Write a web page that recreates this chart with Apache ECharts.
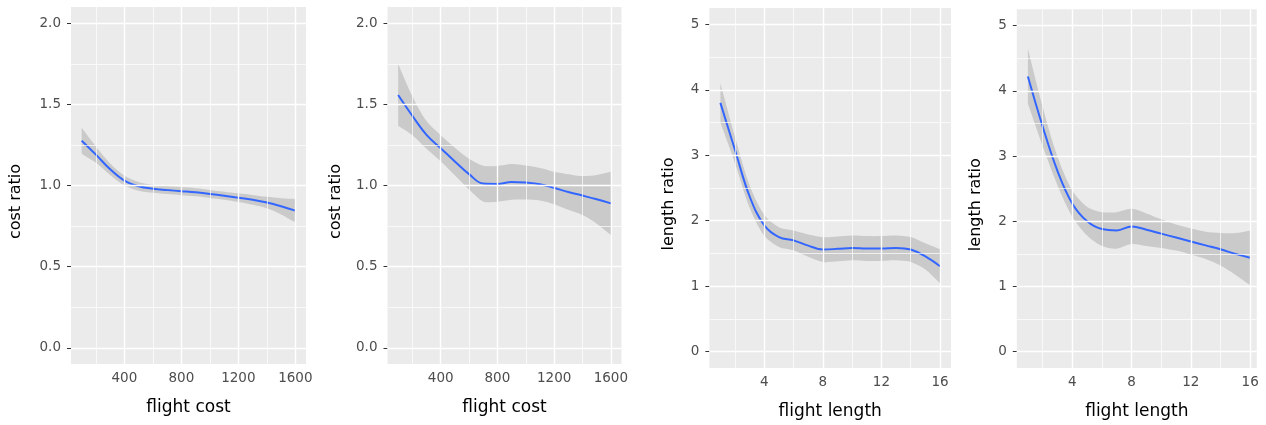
<!DOCTYPE html>
<html>
<head>
<meta charset="utf-8">
<script src="https://cdn.jsdelivr.net/npm/echarts@6/dist/echarts.min.js"></script>
<style>
html,body{margin:0;padding:0;background:#fff;}
#c{width:1266px;height:425px;}
</style>
</head>
<body>
<div id="c"></div>
<script>
// ---- data ----
const costX = [100,200,300,400,500,600,700,800,900,1000,1100,1200,1300,1400,1500,1600];
const lengthX = [1,2,3,4,5,6,7,8,9,10,11,12,13,14,15,16];

const cost1Fit   = [1.276,1.19,1.10,1.03,0.995,0.98,0.972,0.965,0.958,0.948,0.937,0.925,0.912,0.895,0.872,0.845];
const cost1Lower = [1.196,1.14,1.065,1.0,0.968,0.955,0.947,0.94,0.933,0.923,0.912,0.898,0.882,0.86,0.822,0.773];
const cost1Upper = [1.356,1.24,1.135,1.06,1.022,1.005,0.997,0.99,0.983,0.973,0.962,0.952,0.942,0.93,0.922,0.917];

const cost2Fit   = [1.558,1.43,1.312,1.23,1.148,1.07,1.012,1.01,1.022,1.018,1.008,0.985,0.96,0.938,0.915,0.89];
const cost2Lower = [1.368,1.31,1.227,1.15,1.063,0.975,0.902,0.9,0.912,0.913,0.908,0.885,0.85,0.818,0.765,0.695];
const cost2Upper = [1.748,1.55,1.397,1.31,1.233,1.165,1.122,1.12,1.132,1.123,1.108,1.085,1.07,1.058,1.065,1.085];

const len1Fit   = [3.8,3.08,2.37,1.93,1.75,1.7,1.62,1.56,1.57,1.585,1.575,1.575,1.585,1.56,1.455,1.305];
const len1Lower = [3.5,2.88,2.2,1.77,1.6,1.55,1.45,1.37,1.38,1.395,1.385,1.385,1.395,1.37,1.255,1.045];
const len1Upper = [4.1,3.28,2.54,2.09,1.9,1.85,1.79,1.75,1.76,1.775,1.765,1.765,1.775,1.75,1.655,1.565];

const len2Fit   = [4.22,3.45,2.77,2.27,2.0,1.88,1.86,1.92,1.87,1.81,1.75,1.69,1.63,1.57,1.5,1.44];
const len2Lower = [3.8,3.15,2.55,2.07,1.78,1.62,1.58,1.65,1.62,1.59,1.55,1.49,1.42,1.32,1.18,1.02];
const len2Upper = [4.64,3.75,2.99,2.47,2.22,2.14,2.14,2.19,2.12,2.03,1.95,1.89,1.84,1.82,1.82,1.86];

const costTicks = [400,800,1200,1600];
const costMinor = [200,600,1000,1400];
const lengthTicks = [4,8,12,16];
const lengthMinor = [2,6,10,14];
const costRatioTicks = [0,0.5,1,1.5,2];
const costRatioMinor = [0.25,0.75,1.25,1.75];
const lengthRatioTicks = [0,1,2,3,4,5];
const lengthRatioMinor = [0.5,1.5,2.5,3.5,4.5];

const panels = [
  {x: costX, fit: cost1Fit, lo: cost1Lower, hi: cost1Upper, xt: costTicks, xm: costMinor, yt: costRatioTicks, ym: costRatioMinor,
   xname: 'flight cost', yname: 'cost ratio', xmin: 25, xmax: 1675, ymin: -0.1, ymax: 2.1, dec: 1, yGap: 47,
   grid: {left: 71, top: 7, width: 235, height: 357}},
  {x: costX, fit: cost2Fit, lo: cost2Lower, hi: cost2Upper, xt: costTicks, xm: costMinor, yt: costRatioTicks, ym: costRatioMinor,
   xname: 'flight cost', yname: 'cost ratio', xmin: 25, xmax: 1675, ymin: -0.1, ymax: 2.1, dec: 1, yGap: 43.5,
   grid: {left: 387.5, top: 7, width: 234, height: 357}},
  {x: lengthX, fit: len1Fit, lo: len1Lower, hi: len1Upper, xt: lengthTicks, xm: lengthMinor, yt: lengthRatioTicks, ym: lengthRatioMinor,
   xname: 'flight length', yname: 'length ratio', xmin: 0.25, xmax: 16.75, ymin: -0.25, ymax: 5.25, dec: 0, yGap: 33,
   grid: {left: 709.4, top: 8, width: 241.6, height: 361}},
  {x: lengthX, fit: len2Fit, lo: len2Lower, hi: len2Upper, xt: lengthTicks, xm: lengthMinor, yt: lengthRatioTicks, ym: lengthRatioMinor,
   xname: 'flight length', yname: 'length ratio', xmin: 0.25, xmax: 16.45, ymin: -0.25, ymax: 5.25, dec: 0, yGap: 33,
   grid: {left: 1016.8, top: 9.3, width: 240, height: 360.4}}
];

const FONT = 'DejaVu Sans';
const grids = [], xAxes = [], yAxes = [], series = [];

panels.forEach((p, i) => {
  grids.push(Object.assign({show: true, backgroundColor: '#EBEBEB', borderWidth: 0, containLabel: false}, p.grid));
  xAxes.push({
    type: 'value', gridIndex: i, min: p.xmin, max: p.xmax,
    name: p.xname, nameLocation: 'middle', nameGap: 35,
    nameTextStyle: {fontFamily: FONT, fontSize: 17, color: '#000'},
    axisLine: {show: false},
    axisTick: {show: true, length: 3, customValues: p.xt, lineStyle: {color: '#333', width: 1}},
    axisLabel: {customValues: p.xt, margin: 7, fontFamily: FONT, fontSize: 13.5, color: '#4D4D4D',
      formatter: v => String(v)},
    splitLine: {show: false}
  });
  yAxes.push({
    type: 'value', gridIndex: i, min: p.ymin, max: p.ymax,
    name: p.yname, nameLocation: 'middle', nameGap: p.yGap,
    nameTextStyle: {fontFamily: FONT, fontSize: 16, color: '#000', padding: [0, 32, 0, 0]},
    axisLine: {show: false},
    axisTick: {show: true, length: 4, customValues: p.yt, lineStyle: {color: '#333', width: 1}},
    axisLabel: {customValues: p.yt, margin: 10, fontFamily: FONT, fontSize: 13.5, color: '#4D4D4D',
      formatter: v => Number(v).toFixed(p.dec)},
    splitLine: {show: false}
  });
  const mk = (vals, key, w) => vals.map(v => ({[key]: v, lineStyle: {color: '#FFFFFF', width: w, type: 'solid'}}));
  // gridlines (under everything)
  series.push({
    type: 'line', xAxisIndex: i, yAxisIndex: i, data: p.x.map((x, k) => [x, p.fit[k]]),
    showSymbol: false, lineStyle: {opacity: 0}, silent: true, z: 1,
    markLine: {silent: true, symbol: ['none','none'], label: {show: false}, animation: false,
      data: [].concat(mk(p.xm, 'xAxis', 0.7), mk(p.ym, 'yAxis', 0.7), mk(p.xt, 'xAxis', 1.4), mk(p.yt, 'yAxis', 1.4))}
  });
  // confidence band: one smoothed polygon through the axis scales
  series.push({
    type: 'custom', xAxisIndex: i, yAxisIndex: i, silent: true, z: 2,
    data: p.x.map((x, k) => [x, p.lo[k], p.hi[k]]),
    encode: {x: 0, y: [1, 2]},
    renderItem: function (params, api) {
      if (params.dataIndex !== 0) return null;
      const upper = p.x.map((x, k) => api.coord([x, p.hi[k]]));
      const lower = p.x.map((x, k) => api.coord([x, p.lo[k]])).reverse();
      // repeat the end points so the smoothing keeps the band ends straight
      const pts = [upper[0]].concat(upper, [upper[upper.length - 1], lower[0]], lower, [lower[lower.length - 1]]);
      return {
        type: 'polygon',
        shape: {points: pts, smooth: 0.3},
        style: {fill: 'rgba(153,153,153,0.4)', stroke: null}
      };
    }
  });
  // fitted line
  series.push({
    type: 'line', xAxisIndex: i, yAxisIndex: i, smooth: 0.4, showSymbol: false, z: 3,
    data: p.x.map((x, k) => [x, p.fit[k]]), lineStyle: {color: '#3366FF', width: 2}
  });
});

const chart = echarts.init(document.getElementById('c'), null, {renderer: 'canvas'});
chart.setOption({
  animation: false,
  backgroundColor: '#FFFFFF',
  grid: grids, xAxis: xAxes, yAxis: yAxes, series: series
});
</script>
</body>
</html>
